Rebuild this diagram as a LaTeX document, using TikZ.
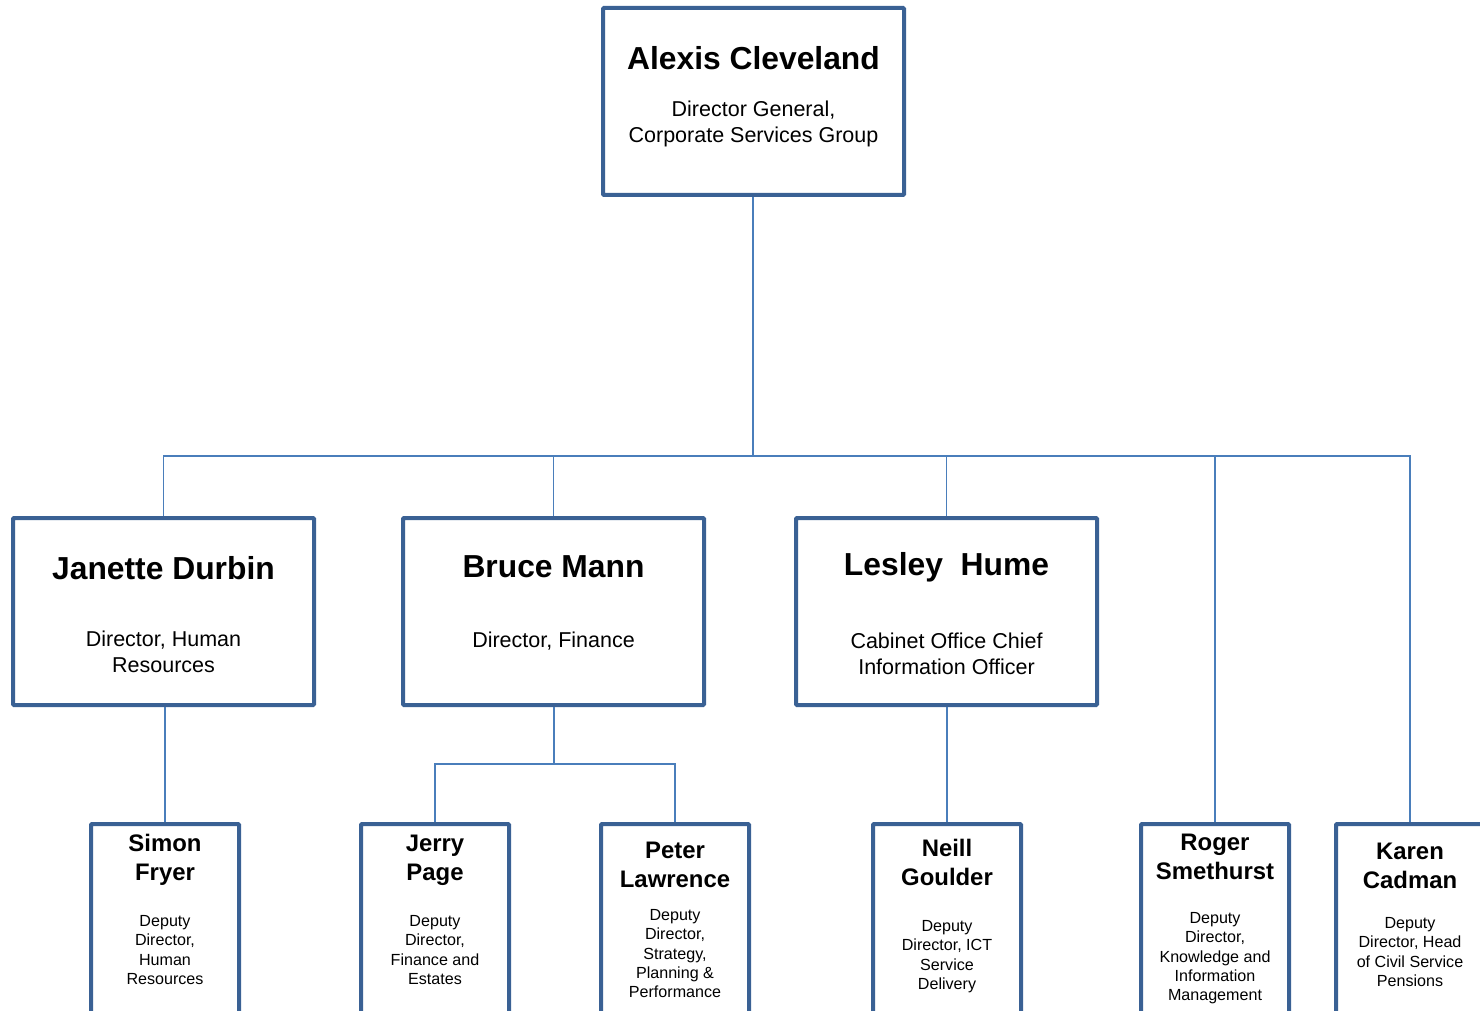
\documentclass[tikz,border=0pt]{standalone}
\usepackage{fontspec}
\setmainfont{Liberation Sans}
\definecolor{boxblue}{HTML}{3A6194}
\definecolor{lineblue}{HTML}{4A7EBB}
\begin{document}
\begin{tikzpicture}[x=1pt,y=-1pt,
  bigbox/.style={draw=boxblue,line width=4pt,fill=white,minimum width=301pt,minimum height=187pt,inner sep=0pt,rounded corners=1pt},
  smallbox/.style={draw=boxblue,line width=4pt,fill=white,minimum width=148pt,minimum height=206pt,inner sep=0pt,rounded corners=1pt},
  conn/.style={draw=lineblue,line width=1.8pt},
  bigname/.style={anchor=base,align=center,inner sep=0pt,font=\fontsize{31.8}{38}\selectfont\bfseries},
  bigrole/.style={anchor=north,align=center,inner sep=0pt,font=\fontsize{21.5}{26}\selectfont},
  smallname/.style={anchor=north,align=center,inner sep=0pt,font=\fontsize{23.9}{29}\selectfont\bfseries},
  smallrole/.style={anchor=north,align=center,inner sep=0pt,font=\fontsize{16.1}{19.3}\selectfont}]
\useasboundingbox (0,0) rectangle (1480,1011);
% top
\node[bigbox] (ac) at (753.5,101.5) {};
\node[bigname] (acn) at (753.5,69.5) {Alexis Cleveland};
\node[bigrole] (acr) at (753.5,100.3) {Director General,\\Corporate Services Group};
% level 2
\node[bigbox] (jd) at (163.5,611.5) {};
\node[bigname] (jdn) at (163.5,579.5) {Janette Durbin};
\node[bigrole] (jdr) at (163.5,630.3) {Director, Human\\Resources};
\node[bigbox] (bm) at (553.5,611.5) {};
\node[bigname] (bmn) at (553.5,577.5) {Bruce Mann};
\node[bigrole,anchor=base] (bmr) at (553.5,647.7) {Director, Finance};
\node[bigbox] (lh) at (946.5,611.5) {};
\node[bigname] (lhn) at (946.5,575.5) {Lesley\ \ Hume};
\node[bigrole] (lhr) at (946.5,632.3) {Cabinet Office Chief\\Information Officer};
% level 3
\node[smallbox] (sf) at (165,927) {};
\node[smallname] (sfn) at (165,834.4) {Simon\\Fryer};
\node[smallrole] (sfr) at (165,915.2) {Deputy\\Director,\\Human\\Resources};
\node[smallbox] (jp) at (435,927) {};
\node[smallname] (jpn) at (435,834.4) {Jerry\\Page};
\node[smallrole] (jpr) at (435,915.2) {Deputy\\Director,\\Finance and\\Estates};
\node[smallbox] (pl) at (675,927) {};
\node[smallname] (pln) at (675,841.4) {Peter\\Lawrence};
\node[smallrole] (plr) at (675,909.2) {Deputy\\Director,\\Strategy,\\Planning \&\\Performance};
\node[smallbox] (ng) at (947,927) {};
\node[smallname] (ngn) at (947,839.4) {Neill\\Goulder};
\node[smallrole] (ngr) at (947,920.2) {Deputy\\Director, ICT\\Service\\Delivery};
\node[smallbox] (rs) at (1215,927) {};
\node[smallname] (rsn) at (1215,833.4) {Roger\\Smethurst};
\node[smallrole] (rsr) at (1215,912.2) {Deputy\\Director,\\Knowledge and\\Information\\Management};
\node[smallbox] (kc) at (1410,927) {};
\node[smallname] (kcn) at (1410,842.4) {Karen\\Cadman};
\node[smallrole] (kcr) at (1410,917.2) {Deputy\\Director, Head\\of Civil Service\\Pensions};
% connectors
\coordinate (bus) at (753,456);
\coordinate (bus2) at (554,764);
\draw[conn] (bus |- ac.south) -- (bus);
\draw[conn] (jd.north) -- (jd.north |- bus) -- (kc.north |- bus) -- (kc.north);
\draw[conn] (bm.north) -- (bm.north |- bus);
\draw[conn] (lh.north) -- (lh.north |- bus);
\draw[conn] (rs.north) -- (rs.north |- bus);
\draw[conn] (sf.north |- jd.south) -- (sf.north);
\draw[conn] (bus2 |- bm.south) -- (bus2);
\draw[conn] (jp.north) -- (jp.north |- bus2) -- (pl.north |- bus2) -- (pl.north);
\draw[conn] (ng.north |- lh.south) -- (ng.north);
\end{tikzpicture}
\end{document}
